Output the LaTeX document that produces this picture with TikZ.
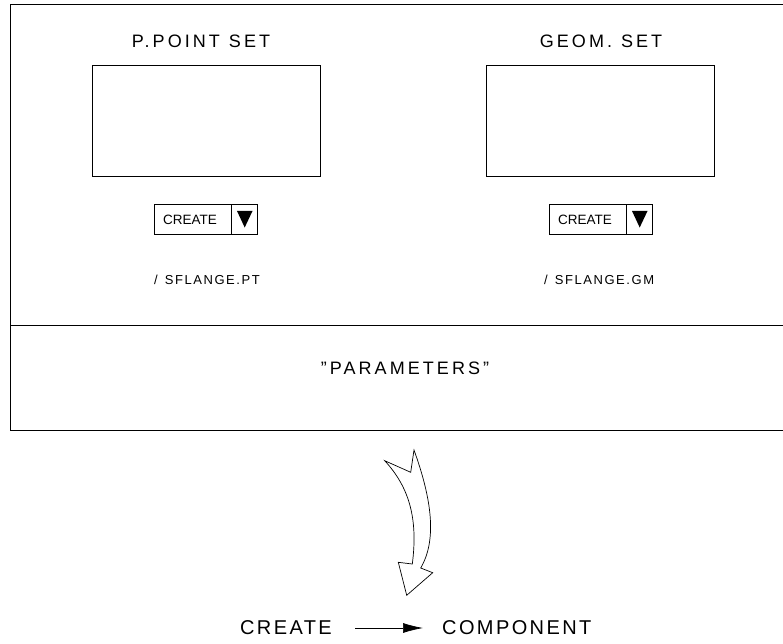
\documentclass[tikz,border=0pt]{standalone}
\usepackage{fontspec}
\setmainfont{Liberation Sans}
\newfontfamily\widefont{Liberation Sans}[LetterSpace=17]
\newfontfamily\medfont{Liberation Sans}[LetterSpace=12]
\usetikzlibrary{arrows.meta}
\begin{document}
\begin{tikzpicture}[x=1pt,y=-1pt,
  frame/.style={draw=black,line width=0.9pt},
  panel/.style={draw=black,line width=0.9pt},
  title/.style={font=\widefont\fontsize{18}{18}\selectfont,inner sep=0pt},
  result/.style={font=\medfont\fontsize{20}{20}\selectfont,inner sep=0pt},
  btntext/.style={font=\fontsize{13.5}{13.5}\selectfont,inner sep=0pt},
  small/.style={font=\medfont\fontsize{13}{13}\selectfont,inner sep=0pt},
  btn/.style={draw=black,line width=0.7pt,minimum width=103pt,minimum height=30pt,inner sep=0pt}
]
\useasboundingbox (0,0) rectangle (783,644);

% outer frame, open on the right
\draw[frame] (783,4) -- (10,4) -- (10,430) -- (783,430);
\draw[frame] (10,325) -- (783,325);

% left panel: point set
\node[title] (ptitle) at (201,41) {P.POINT\hspace{9pt}SET};
\draw[panel] (92,65) rectangle (320,176.5);
\node[btn,anchor=west] (pbtn) at (154,219.5) {};
\node[btntext,anchor=west] (pbtntext) at (163,220) {CREATE};
\draw[line width=0.7pt] (231,204.5) -- (231,234.5);
\fill (237,211) -- (252.5,211) -- (244.7,227.5) -- cycle;
\node[small,anchor=west] (pfile) at (154,280) {/\hspace{7pt}SFLANGE.PT};

% right panel: geometry set
\node[title] (gtitle) at (601,41) {GEOM.\hspace{9pt}SET};
\draw[panel] (486,65) rectangle (714,176.5);
\node[btn,anchor=west] (gbtn) at (549,219.5) {};
\node[btntext,anchor=west] (gbtntext) at (558,220) {CREATE};
\draw[line width=0.7pt] (626,204.5) -- (626,234.5);
\fill (632,211) -- (647.5,211) -- (639.7,227.5) -- cycle;
\node[small,anchor=west] (gfile) at (544,280) {/\hspace{7pt}SFLANGE.GM};

% parameters strip
\node[title] (params) at (405,368) {”PARAMETERS”};

% hollow curved arrow
\draw[line width=0.7pt,line join=miter]
  (414,450) .. controls (432,500) and (437,540) .. (420.7,568)
  -- (432.7,572.7) -- (406.7,595.3) -- (398.3,562.3) -- (412.3,564)
  .. controls (418,520) and (410,488) .. (384.7,460.7)
  -- (410.7,472.3) -- cycle;

% result line
\node[result,anchor=east] (create) at (332,628) {CREATE};
\node[result,anchor=west] (comp) at (442,628) {COMPONENT};
\draw[line width=0.7pt,-{Latex[length=20pt,width=10pt]},shorten <=23pt,shorten >=19pt] (create.east) -- (comp.west);
\end{tikzpicture}
\end{document}
